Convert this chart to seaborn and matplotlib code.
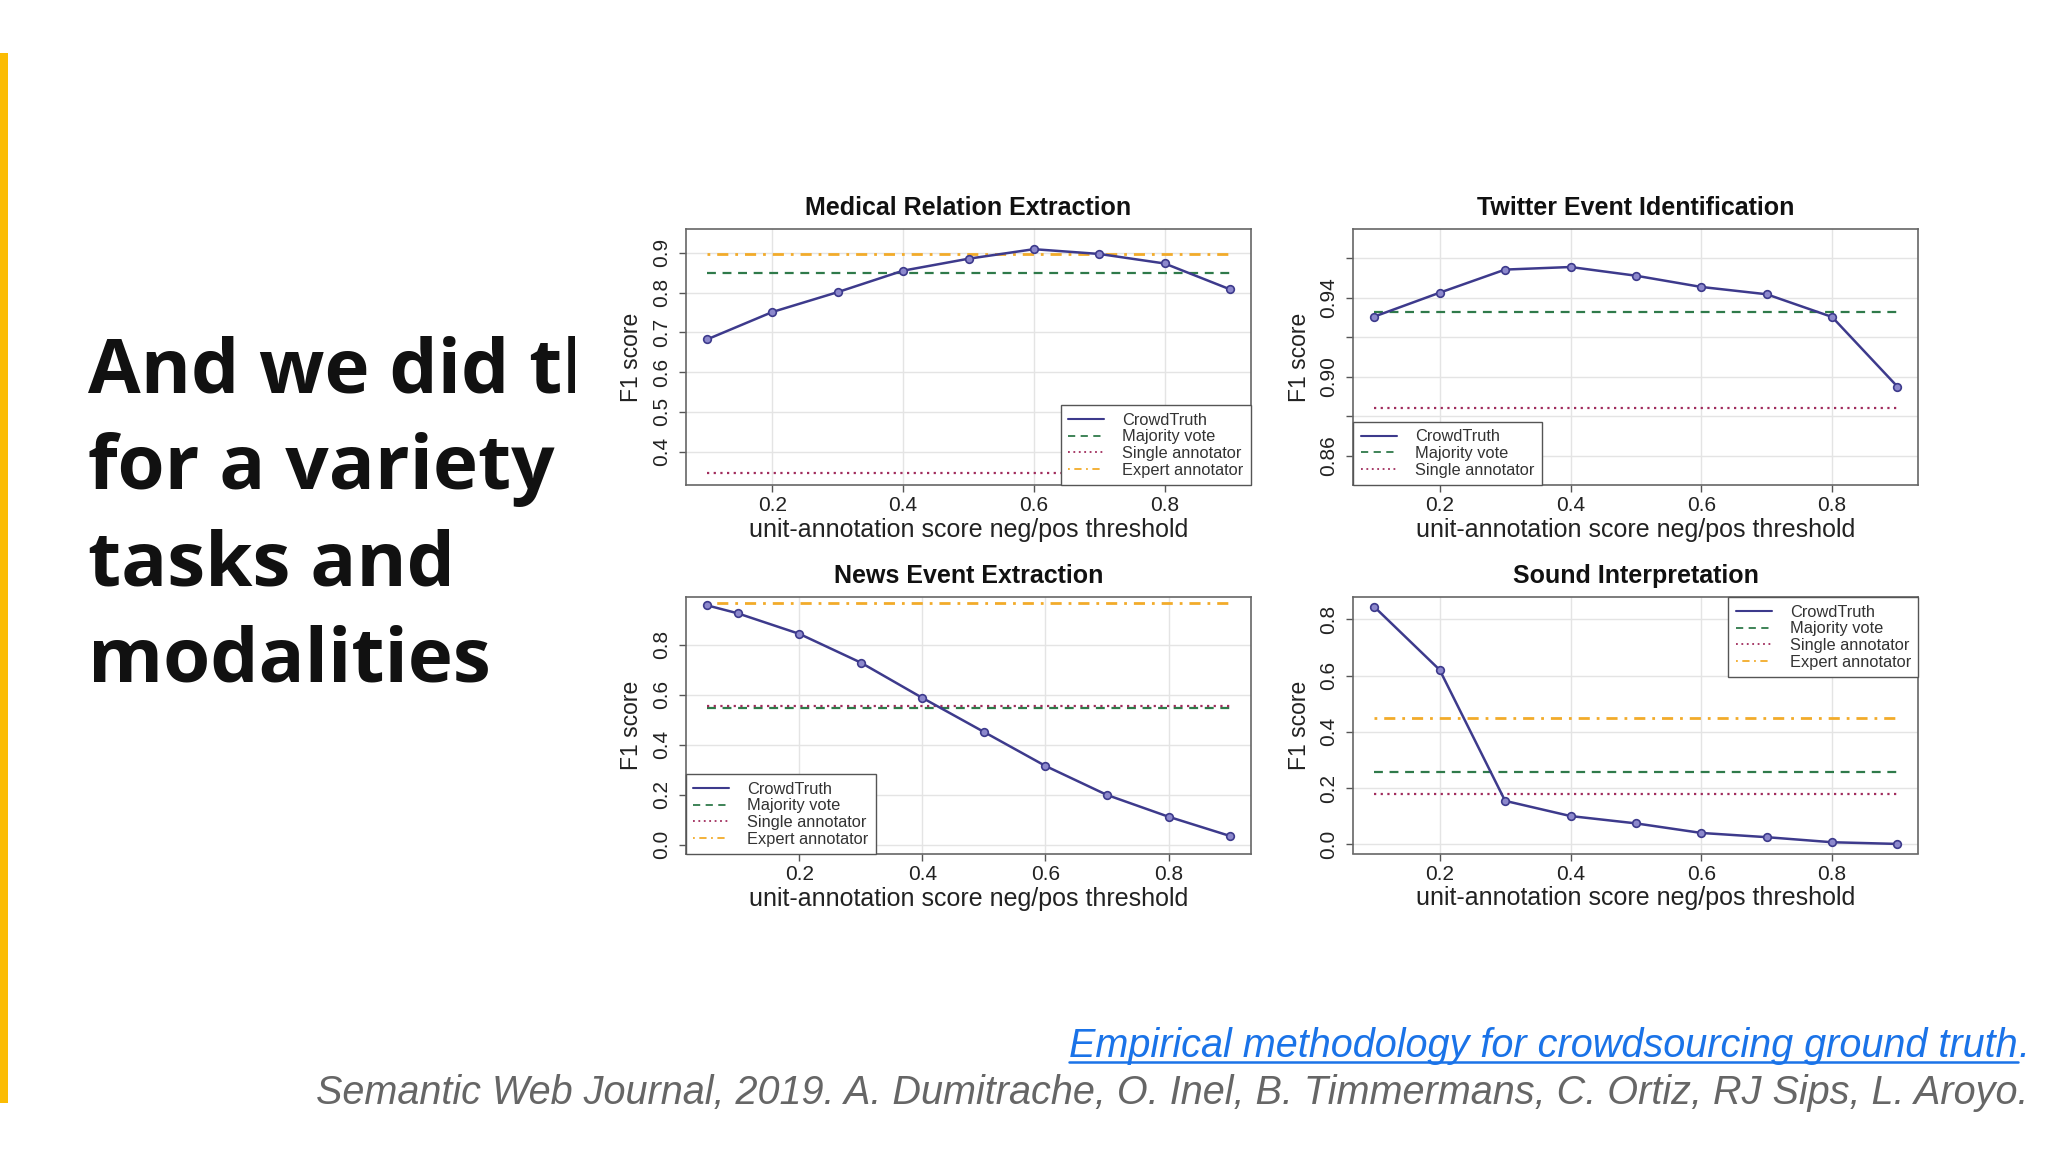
import matplotlib
matplotlib.use("Agg")
import matplotlib.pyplot as plt
from matplotlib.lines import Line2D
import seaborn as sns

# ---- data ----
thr = [0.1, 0.2, 0.3, 0.4, 0.5, 0.6, 0.7, 0.8, 0.9]
thr_news = [0.05, 0.1, 0.2, 0.3, 0.4, 0.5, 0.6, 0.7, 0.8, 0.9]

med_crowd = [0.682, 0.751, 0.801, 0.855, 0.885, 0.909, 0.897, 0.873, 0.808]
med_majority = 0.848
med_single = 0.346
med_expert = 0.896

tw_crowd = [0.9304, 0.9425, 0.9542, 0.9555, 0.9511, 0.9454, 0.9417, 0.9302, 0.8949]
tw_majority = 0.9326
tw_single = 0.8841

news_crowd = [0.957, 0.925, 0.843, 0.728, 0.587, 0.451, 0.315, 0.199, 0.112, 0.035]
news_majority = 0.545
news_single = 0.556
news_expert = 0.965

snd_crowd = [0.844, 0.620, 0.155, 0.101, 0.075, 0.041, 0.026, 0.008, 0.002]
snd_majority = 0.258
snd_single = 0.178
snd_expert = 0.450

med_yticks = [0.4, 0.5, 0.6, 0.7, 0.8, 0.9]
tw_yticks = [0.86, 0.88, 0.90, 0.92, 0.94, 0.96]
tw_ylabels = ["0.86", "", "0.90", "", "0.94", ""]
frac_yticks = [0.0, 0.2, 0.4, 0.6, 0.8]
xticks = [0.2, 0.4, 0.6, 0.8]

# only the part of the headline that shows beside the chart image
headline = ["And we did th", "for a variety", "tasks and", "modalities"]
cite_link = "Empirical methodology for crowdsourcing ground truth"
cite_ref = ("Semantic Web Journal, 2019. A. Dumitrache, O. Inel, B. Timmermans, "
            "C. Ortiz, RJ Sips, L. Aroyo.")

# ---- styles ----
C_CROWD = "#3d3a8c"
C_MAJ = "#2f7a4a"
C_SINGLE = "#a02c5c"
C_EXPERT = "#f2ab2a"
STYLES = {
    "CrowdTruth": dict(color=C_CROWD, ls="-"),
    "Majority vote": dict(color=C_MAJ, ls=(0, (4, 3))),
    "Single annotator": dict(color=C_SINGLE, ls=(0, (1, 2))),
    "Expert annotator": dict(color=C_EXPERT, ls=(0, (1, 2.5, 4, 2.5))),
}

sns.set_theme(style="white")
plt.rcParams["font.family"] = ["Liberation Sans", "DejaVu Sans"]

W, H = 2048, 1152
fig = plt.figure(figsize=(W / 100, H / 100), dpi=100)
fig.patch.set_facecolor("white")


def panel(rect, title, x, crowd, baselines, ylim, yticks, ylabels, xlim, loc):
    ax = fig.add_axes(rect)
    for v in xticks:
        ax.axvline(v, color="#e4e4e4", lw=1, zorder=0)
    for v in yticks:
        ax.axhline(v, color="#e4e4e4", lw=1, zorder=0)

    sns.lineplot(x=x, y=crowd, ax=ax, color=C_CROWD, lw=1.8, marker="o",
                 markersize=5.5, markerfacecolor="#8c88cc",
                 markeredgecolor=C_CROWD, markeredgewidth=1.2, zorder=3)
    handles = [Line2D([], [], lw=1.5, **STYLES["CrowdTruth"], label="CrowdTruth")]
    for name, val in baselines:
        ax.hlines(val, min(x), max(x), lw=1.6 if name != "Expert annotator" else 2.0,
                  zorder=2, **STYLES[name])
        handles.append(Line2D([], [], lw=1.3, **STYLES[name], label=name))

    ax.set_xlim(*xlim)
    ax.set_ylim(*ylim)
    ax.set_xticks(xticks)
    ax.set_xticklabels([f"{v:.1f}" for v in xticks])
    ax.set_yticks(yticks)
    ax.set_yticklabels(ylabels)
    ax.tick_params(axis="both", direction="out", length=5, width=1, color="#555555",
                   labelsize=15, labelcolor="#222222", left=True, bottom=True)
    ax.tick_params(axis="x", pad=3)
    ax.tick_params(axis="y", pad=6, labelrotation=90)
    for lab in ax.get_yticklabels():
        lab.set_va("center")
    for sp in ax.spines.values():
        sp.set_color("#666666")
        sp.set_linewidth(1.2)
    ax.set_title(title, fontsize=18, fontweight="bold", pad=10, color="#111111")
    ax.set_xlabel("unit-annotation score neg/pos threshold", fontsize=18,
                  color="#222222", labelpad=2)
    ax.set_ylabel("F1 score", fontsize=16.5, color="#222222", labelpad=6)

    leg = ax.legend(handles=handles, loc=loc, fontsize=11.8, frameon=True,
                    fancybox=False, borderaxespad=0, handlelength=2.2,
                    handletextpad=1.1, labelspacing=0.1, borderpad=0.45)
    leg.get_frame().set_edgecolor("#555555")
    leg.get_frame().set_linewidth(1.0)
    leg.get_frame().set_facecolor("white")
    leg.get_frame().set_alpha(1)
    leg.set_zorder(5)
    for t in leg.get_texts():
        t.set_color("#333333")
    return ax


L1, L2 = 686 / W, 1353.4 / W
AW = 565 / W
panel([L1, 1 - 485 / H, AW, 255.7 / H], "Medical Relation Extraction", thr, med_crowd,
      [("Majority vote", med_majority), ("Single annotator", med_single),
       ("Expert annotator", med_expert)],
      (0.316, 0.959), med_yticks, [f"{v:.1f}" for v in med_yticks], (0.068, 0.932),
      "lower right")
panel([L2, 1 - 485 / H, AW, 255.7 / H], "Twitter Event Identification", thr, tw_crowd,
      [("Majority vote", tw_majority), ("Single annotator", tw_single)],
      (0.8451, 0.9746), tw_yticks, tw_ylabels, (0.068, 0.932), "lower left")
panel([L1, 1 - 854 / H, AW, 256.7 / H], "News Event Extraction", thr_news, news_crowd,
      [("Majority vote", news_majority), ("Single annotator", news_single),
       ("Expert annotator", news_expert)],
      (-0.037, 0.989), frac_yticks, [f"{v:.1f}" for v in frac_yticks], (0.016, 0.934),
      "lower left")
panel([L2, 1 - 853.5 / H, AW, 256.2 / H], "Sound Interpretation", thr, snd_crowd,
      [("Majority vote", snd_majority), ("Single annotator", snd_single),
       ("Expert annotator", snd_expert)],
      (-0.032, 0.878), frac_yticks, [f"{v:.1f}" for v in frac_yticks], (0.068, 0.932),
      "upper right")

# ---- slide decorations ----
bar = fig.add_axes([0, 1 - 1103 / H, 8 / W, 1050 / H])
bar.set_facecolor("#fbbc04")
bar.set_xticks([])
bar.set_yticks([])
for sp in bar.spines.values():
    sp.set_visible(False)

# headline is cut off where the chart image begins
tax = fig.add_axes([0, 0, 575 / W, 1])
tax.set_axis_off()
for i, line in enumerate(headline):
    t = tax.text(88 / 575, 1 - (393 + 96 * i) / H, line, transform=tax.transAxes,
                 fontsize=55, fontweight="bold", family=["Open Sans", "DejaVu Sans"],
                 color="#111111", ha="left", va="baseline", clip_on=True)
    t.set_clip_box(tax.bbox)

dot = fig.text(2029 / W, 1 - 1057 / H, ".", fontsize=28.5, style="italic",
               color="#1a73e8", ha="right", va="baseline")
link = fig.text(2029 / W, 1 - 1057 / H, cite_link, fontsize=28.5, style="italic",
                color="#1a73e8", ha="right", va="baseline")
fig.text(2029 / W, 1 - 1104 / H, cite_ref, fontsize=28.5, style="italic",
         color="#666666", ha="right", va="baseline")

fig.canvas.draw()
r = fig.canvas.get_renderer()
bb_dot = dot.get_window_extent(r)
link.set_x(bb_dot.x0 / W)
fig.canvas.draw()
bb = link.get_window_extent(r)
fig.add_artist(Line2D([bb.x0 / W, bb.x1 / W], [1 - 1062 / H, 1 - 1062 / H],
                      color="#1a73e8", lw=1.8))

fig.savefig("out.png", dpi=100, facecolor="white")
